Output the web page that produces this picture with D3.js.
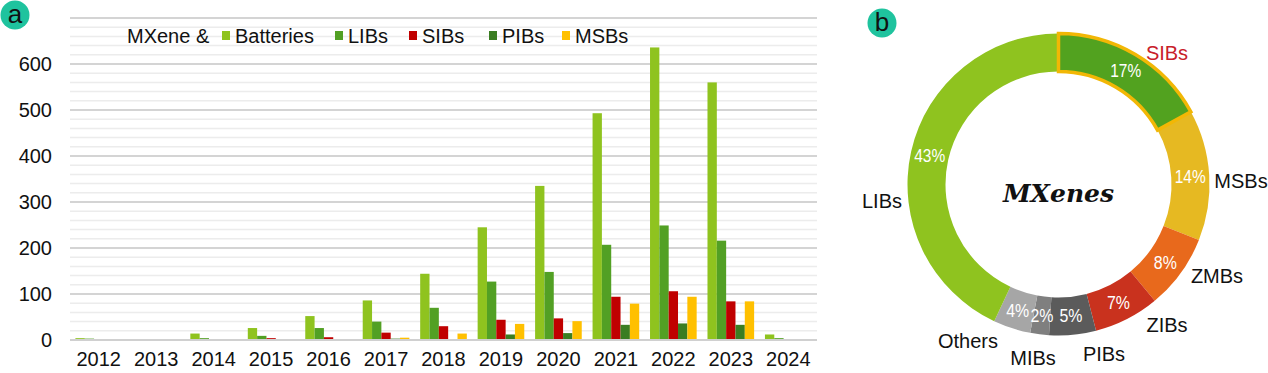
<!DOCTYPE html>
<html>
<head>
<meta charset="utf-8">
<script src="https://cdn.jsdelivr.net/npm/d3@7"></script>
<style>
    body { margin: 0; background: #fff; }
    text { font-family: "Liberation Sans", Arial, sans-serif; }
</style>
</head>
<body>
<div id="chart"></div>
<script>
// bar chart data (panel a)
const years = ["2012", "2013", "2014", "2015", "2016", "2017", "2018", "2019", "2020", "2021", "2022", "2023", "2024"];
const seriesNames = ["Batteries", "LIBs", "SIBs", "PIBs", "MSBs"];
const batteries = [4, 0, 14, 26, 52, 86, 144, 245, 335, 493, 636, 560, 12];
const libs = [3, 0, 4, 9, 26, 40, 70, 127, 148, 207, 249, 216, 4];
const sibs = [0, 0, 0, 4, 6, 16, 30, 44, 47, 94, 106, 84, 0];
const pibs = [0, 0, 0, 0, 0, 3, 0, 12, 15, 33, 36, 33, 0];
const msbs = [0, 0, 0, 1, 0, 5, 14, 35, 41, 79, 94, 84, 0];
const yTicks = [0, 100, 200, 300, 400, 500, 600];

// donut data (panel b), clockwise from 12 o'clock
const shareNames = ["SIBs", "MSBs", "ZMBs", "ZIBs", "PIBs", "MIBs", "Others", "LIBs"];
const shareValues = [17, 14, 8, 7, 5, 2, 4, 43];

const width = 1268;
const height = 373;

const barColors = ["#8fc31f", "#52a024", "#c00000", "#3a7d22", "#ffc000"];
const sliceColors = ["#52a21f", "#e6b922", "#e8691c", "#c9321e", "#5b5b5b", "#7f7f7f", "#a6a6a6", "#8fc31f"];

const svg = d3.select("#chart").append("svg")
    .attr("width", width)
    .attr("height", height);

// ---------- panel a ----------
const plot = {left: 70, right: 817, top: 18, bottom: 340};

const x0 = d3.scaleBand().domain(years).range([plot.left, plot.right]);
const x1 = d3.scaleBand().domain(seriesNames).range([0, x0.bandwidth()]).paddingOuter(0.58);
const y = d3.scaleLinear().domain([0, 700]).range([plot.bottom, plot.top]);

// gridlines: light every 20, darker every 100
const grid = svg.append("g").attr("class", "grid");
grid.selectAll("line").data(d3.range(20, 701, 20)).enter()
    .append("line")
        .attr("x1", plot.left)
        .attr("x2", plot.right)
        .attr("y1", function(d){ return y(d); })
        .attr("y2", function(d){ return y(d); })
        .attr("stroke", function(d){ return d % 100 === 0 ? "#d4d4d4" : "#ececec"; })
        .attr("stroke-width", function(d){ return d % 100 === 0 ? 2 : 1.5; });

const seriesData = [batteries, libs, sibs, pibs, msbs];

const groups = svg.append("g").selectAll("g").data(years).enter()
    .append("g")
        .attr("transform", function(d){ return "translate(" + x0(d) + ",0)"; });

groups.selectAll("rect")
    .data(function(d, i){
        return seriesNames.map(function(s, j){ return {key: s, value: seriesData[j][i], idx: j}; });
    })
    .enter().append("rect")
        .attr("x", function(d){ return x1(d.key); })
        .attr("width", x1.bandwidth())
        .attr("y", function(d){ return y(d.value); })
        .attr("height", function(d){ return y(0) - y(d.value); })
        .attr("fill", function(d){ return barColors[d.idx]; });

// baseline
svg.append("line")
    .attr("x1", plot.left).attr("x2", plot.right)
    .attr("y1", y(0)).attr("y2", y(0))
    .attr("stroke", "#d0d0d0").attr("stroke-width", 2);

// axes
const yAxis = d3.axisLeft(y).tickValues(yTicks).tickSize(0).tickPadding(18);
const yG = svg.append("g").attr("transform", "translate(" + plot.left + ",0)").call(yAxis);
yG.select(".domain").remove();
yG.selectAll("text").attr("font-size", "20px").attr("fill", "#111")
    .style("font-family", "Liberation Sans, Arial, sans-serif");

// keep the year labels clear of the bottom edge
const xAxis = d3.axisBottom(x0).tickSize(0).tickPadding(12);
const xG = svg.append("g").attr("transform", "translate(0," + plot.bottom + ")").call(xAxis);
xG.select(".domain").remove();
xG.selectAll("text").attr("font-size", "20px").attr("fill", "#111")
    .style("font-family", "Liberation Sans, Arial, sans-serif");

// legend
const legend = svg.append("g").attr("class", "legend");
legend.append("text")
    .attr("x", 127).attr("y", 43)
    .attr("font-size", "20px").attr("fill", "#111")
    .text("MXene &");

const legendX = [222, 335, 409, 489, 562];
const legendItems = legend.selectAll("g.item").data(seriesNames).enter()
    .append("g")
        .attr("class", "item")
        .attr("transform", function(d, i){ return "translate(" + legendX[i] + ",0)"; });
legendItems.append("rect")
    .attr("x", 0).attr("y", 31)
    .attr("width", 8).attr("height", 9)
    .attr("fill", function(d, i){ return barColors[i]; });
legendItems.append("text")
    .attr("x", 13).attr("y", 43)
    .attr("font-size", "20px").attr("fill", "#111")
    .text(function(d){ return d; });

// ---------- panel b ----------
const cx = 1058.5, cy = 184.5;
const rInner = 113, rOuter = 151;

const pie = d3.pie().sort(null).value(function(d){ return d; });
const arcs = pie(shareValues);
const arc = d3.arc().innerRadius(rInner).outerRadius(rOuter);
const labelArc = d3.arc().innerRadius(132).outerRadius(132);

const donut = svg.append("g").attr("transform", "translate(" + cx + "," + cy + ")");

// draw SIBs last so its outline sits on top
const order = [1, 2, 3, 4, 5, 6, 7, 0];
donut.selectAll("path").data(order.map(function(i){ return arcs[i]; })).enter()
    .append("path")
        .attr("d", arc)
        .attr("fill", function(d){ return sliceColors[d.index]; })
        .attr("stroke", function(d){ return d.index === 0 ? "#f2b705" : "none"; })
        .attr("stroke-width", 3.5)
        .attr("stroke-linejoin", "miter");

donut.selectAll("text.pct").data(arcs).enter()
    .append("text")
        .attr("class", "pct")
        .attr("transform", function(d){ return "translate(" + labelArc.centroid(d) + ")"; })
        .attr("text-anchor", "middle")
        .attr("dy", "0.36em")
        .attr("font-size", "18px")
        .attr("fill", "#fff")
        .attr("textLength", function(d){ return String(d.data).length === 1 ? 23 : 31; })
        .attr("lengthAdjust", "spacingAndGlyphs")
        .text(function(d){ return d.data + "%"; });

// outer category labels (positions)
const outerLabels = [
    {name: "SIBs", x: 1167, y: 60, color: "#c8202a"},
    {name: "MSBs", x: 1241, y: 188},
    {name: "ZMBs", x: 1217, y: 283},
    {name: "ZIBs", x: 1167, y: 332},
    {name: "PIBs", x: 1104, y: 361},
    {name: "MIBs", x: 1033, y: 365},
    {name: "Others", x: 968, y: 348},
    {name: "LIBs", x: 882, y: 208}
];
svg.append("g").selectAll("text").data(outerLabels).enter()
    .append("text")
        .attr("x", function(d){ return d.x; })
        .attr("y", function(d){ return d.y; })
        .attr("text-anchor", "middle")
        .attr("font-size", "20px")
        .attr("fill", function(d){ return d.color || "#111"; })
        .text(function(d){ return d.name; });

svg.append("text")
    .attr("x", cx).attr("y", 202)
    .attr("text-anchor", "middle")
    .attr("font-size", "25px")
    .attr("font-weight", "bold")
    .attr("font-style", "italic")
    .style("font-family", "'DejaVu Serif', serif")
    .attr("fill", "#111")
    .text("MXenes");

// panel badges
const badges = [{t: "a", x: 15, y: 15}, {t: "b", x: 882, y: 23}];
const badge = svg.append("g").selectAll("g").data(badges).enter()
    .append("g")
        .attr("transform", function(d){ return "translate(" + d.x + "," + d.y + ")"; });
badge.append("circle").attr("r", 14.5).attr("fill", "#1fc39e");
badge.append("text")
    .attr("text-anchor", "middle")
    .attr("dy", "0.32em")
    .attr("font-size", "26px")
    .attr("fill", "#111")
    .text(function(d){ return d.t; });
</script>
</body>
</html>
